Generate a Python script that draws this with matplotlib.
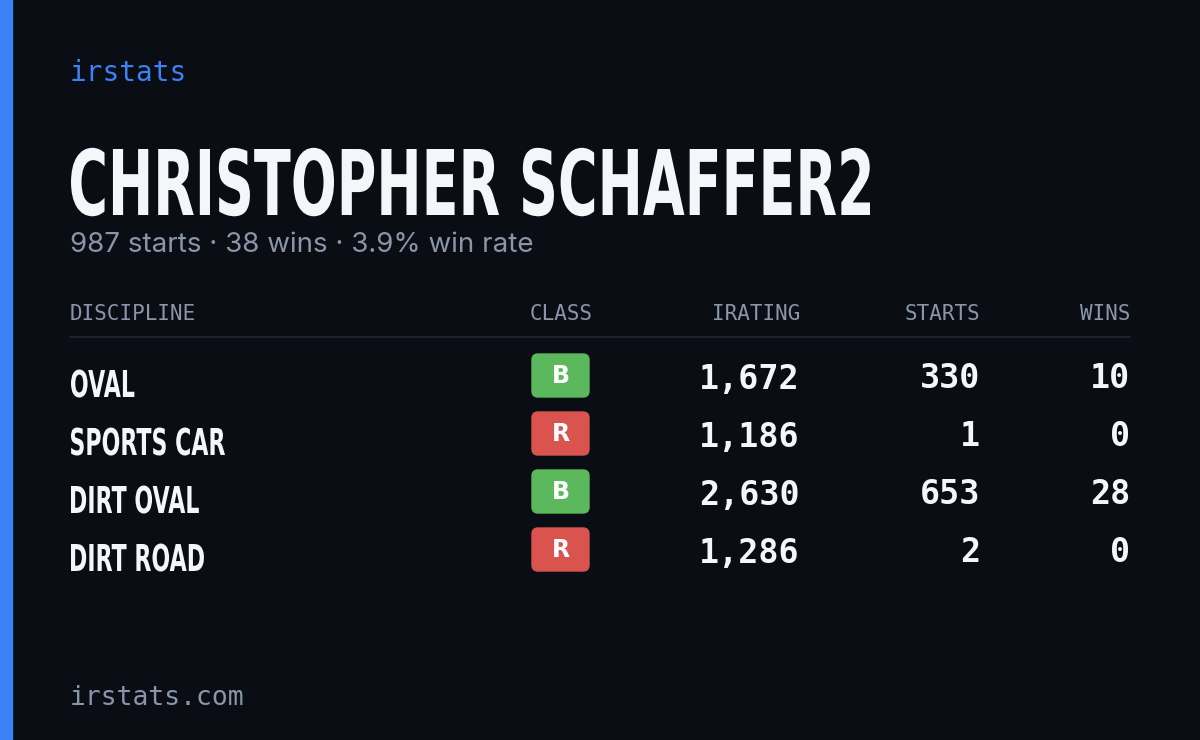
import matplotlib
matplotlib.use("Agg")
import matplotlib.pyplot as plt
from matplotlib.patches import FancyBboxPatch, Rectangle, PathPatch
from matplotlib.textpath import TextPath
from matplotlib.font_manager import FontProperties
from matplotlib.transforms import Affine2D

name = "CHRISTOPHER SCHAFFER2"
subtitle = "987 starts · 38 wins · 3.9% win rate"
headers = ["DISCIPLINE", "CLASS", "IRATING", "STARTS", "WINS"]
disciplines = ["OVAL", "SPORTS CAR", "DIRT OVAL", "DIRT ROAD"]
classes = ["B", "R", "B", "R"]
iratings = [1672, 1186, 2630, 1286]
starts = [330, 1, 653, 2]
wins = [10, 0, 28, 0]
class_colors = {"B": "#5cb85c", "R": "#d9534f"}

W, H = 1200, 740
fig = plt.figure(figsize=(12, 7.4), dpi=100)
fig.patch.set_facecolor("#0a0d14")
ax = fig.add_axes([0, 0, 1, 1])
ax.set_xlim(0, W); ax.set_ylim(H, 0); ax.axis("off")

ax.add_patch(Rectangle((0, 0), 12, H, color="#3b82f6"))
mono = "DejaVu Sans Mono"
bold = FontProperties(family="DejaVu Sans", weight="bold")
CAP = 0.729

def cond_text(s, x, base, cap, xscale=None, width=None):
    p = TextPath((0, 0), s, size=1, prop=bold)
    bb = p.get_extents()
    sc = cap / CAP
    if width is not None:
        xscale = width / (bb.width * sc)
    tr = Affine2D().translate(-bb.x0, 0).scale(sc * xscale, -sc).translate(x, base)
    ax.add_patch(PathPatch(tr.transform_path(p), color="#f5f6fa", lw=0))
    return xscale

ax.text(70, 73, "irstats", color="#3b82f6", fontsize=20, family=mono, va="center")
xs = cond_text(name, 71, 215, 66, width=799)
ax.text(70, 245, subtitle, color="#8a96a8", fontsize=20, family="Inter", va="center")

hx = [70, 593, 800, 980, 1130]
ha = ["left", "right", "right", "right", "right"]
for h, x, a in zip(headers, hx, ha):
    ax.text(x, 314, h, color="#8a96a8", fontsize=15, family=mono, ha=a, va="center")
ax.plot([70, 1130], [337, 337], color="#1c2130", lw=1.5)

for i, d in enumerate(disciplines):
    y = 380 + 58 * i
    cond_text(d, 71, y + 17, 27, xscale=xs)
    ax.add_patch(FancyBboxPatch((535, y - 23), 51, 37, boxstyle="round,pad=3,rounding_size=6",
                                color=class_colors[classes[i]]))
    ax.text(560.5, y - 4, classes[i], color="white", fontsize=17, weight="bold", ha="center", va="center")
    for val, x in zip([f"{iratings[i]:,}", str(starts[i]), str(wins[i])], [800, 980, 1130]):
        ax.text(x, y - 1, val, color="#f5f6fa", fontsize=24, family=mono, weight="bold", ha="right", va="center")

ax.text(70, 698, "irstats.com", color="#8a96a8", fontsize=19, family=mono, va="center")
fig.savefig("out.png", dpi=100, facecolor=fig.get_facecolor())
